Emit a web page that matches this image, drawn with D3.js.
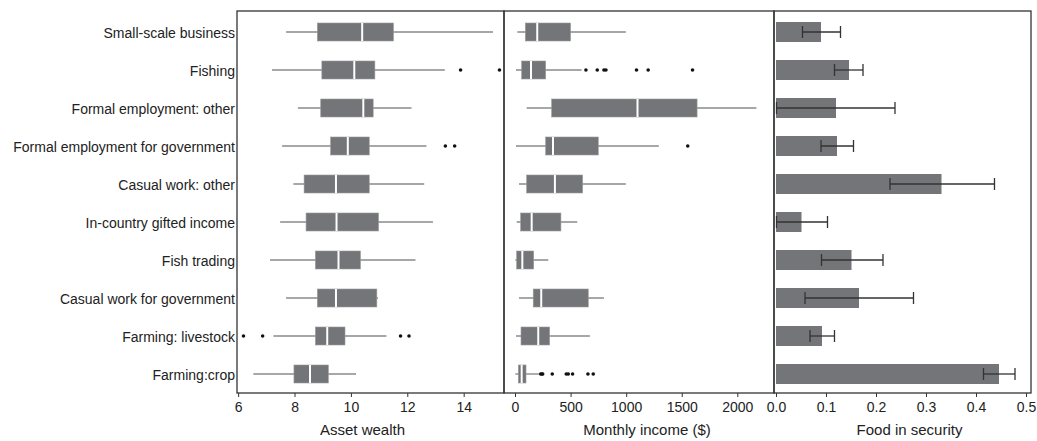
<!DOCTYPE html>
<html>
<head>
<meta charset="utf-8">
<script src="https://cdn.jsdelivr.net/npm/d3@7"></script>
<style>
  body { margin: 0; background: #fff; }
  text { font-family: "Liberation Sans", Arial, Helvetica, sans-serif; fill: #222; }
</style>
</head>
<body>
<div id="chart"></div>
<script>
/* Data */
const categories = [
  "Small-scale business",
  "Fishing",
  "Formal employment: other",
  "Formal employment for government",
  "Casual work: other",
  "In-country gifted income",
  "Fish trading",
  "Casual work for government",
  "Farming: livestock",
  "Farming:crop"
];

// [lower whisker, Q1, median, Q3, upper whisker]
const assetStats = [
  [7.70, 8.81, 10.40, 11.51, 15.04],
  [7.20, 8.97, 10.12, 10.85, 13.33],
  [8.12, 8.93, 10.44, 10.79, 12.15],
  [7.56, 9.28, 9.89, 10.65, 12.68],
  [7.96, 8.34, 9.47, 10.65, 12.60],
  [7.49, 8.41, 9.49, 10.98, 12.91],
  [7.13, 8.74, 9.56, 10.34, 12.29],
  [7.70, 8.81, 9.47, 10.92, 10.96],
  [7.25, 8.74, 9.16, 9.79, 11.26],
  [6.54, 7.98, 8.55, 9.20, 10.18]
];
const assetOutliers = [
  [], [13.89, 15.27], [], [13.35, 13.68], [], [], [], [], [6.19, 6.87, 11.76, 12.06], []
];

const incomeStats = [
  [21, 93, 200, 500, 997],
  [9, 60, 144, 276, 599],
  [105, 330, 1102, 1638, 2172],
  [9, 276, 342, 749, 1294],
  [36, 105, 359, 608, 997],
  [15, 51, 150, 413, 560],
  [3, 15, 66, 168, 299],
  [36, 164, 236, 659, 800],
  [9, 54, 209, 312, 674],
  [3, 30, 60, 99, 215]
];
const incomeOutliers = [
  [],
  [638, 740, 800, 818, 1093, 1198, 1597],
  [],
  [1554],
  [], [], [], [], [],
  [231, 243, 249, 335, 461, 479, 518, 656, 704]
];

const foodMean = [0.090, 0.146, 0.120, 0.122, 0.331, 0.051, 0.151, 0.166, 0.092, 0.446];
const foodLow  = [0.053, 0.117, 0.001, 0.090, 0.228, 0.001, 0.091, 0.058, 0.068, 0.415];
const foodHigh = [0.129, 0.174, 0.238, 0.155, 0.437, 0.103, 0.214, 0.275, 0.117, 0.478];

const assetTicks = [6, 8, 10, 12, 14];
const incomeTicks = [0, 500, 1000, 1500, 2000];
const foodTicks = [0, 0.1, 0.2, 0.3, 0.4, 0.5];

/* Dimensions */
const width = 1037, height = 441;
const plotTop = 11, plotBottom = 393;
const boxHeight = 18, barHeight = 20;
const grey = "#747578";

const svg = d3.select("#chart")
  .append("svg")
  .attr("width", width)
  .attr("height", height);

// shared row scale
const yScale = d3.scalePoint()
  .domain(categories)
  .range([plotTop + 2, plotBottom])
  .padding(0.5);

// category labels
svg.append("g")
  .selectAll("text")
  .data(categories)
  .enter()
  .append("text")
  .attr("x", 235)
  .attr("y", d => yScale(d) + 1)
  .attr("dy", "0.35em")
  .attr("text-anchor", "end")
  .style("font-size", "14px")
  .text(d => d);

function drawAxis(x, ticks, fmt, title, x0, x1, titleShift) {
  const axis = svg.append("g")
    .attr("transform", `translate(0,${plotBottom})`)
    .call(d3.axisBottom(x).tickValues(ticks).tickSize(4).tickPadding(5).tickFormat(fmt));
  axis.select(".domain").remove();
  axis.selectAll(".tick line").attr("stroke", "#333");
  axis.selectAll(".tick text")
    .style("font-size", "14px")
    .style("font-family", "\"Liberation Sans\", Arial, sans-serif")
    .attr("fill", "#222");

  // x-label (nudged like the original figure)
  svg.append("text")
    .attr("x", (x0 + x1) / 2 + titleShift)
    .attr("y", 435)
    .attr("text-anchor", "middle")
    .style("font-size", "15px")
    .text(title);

  // panel frame
  svg.append("rect")
    .attr("x", x0)
    .attr("y", plotTop)
    .attr("width", x1 - x0)
    .attr("height", plotBottom - plotTop)
    .attr("fill", "none")
    .attr("stroke", "#333")
    .attr("stroke-width", 1.3);
}

function drawBoxPanel(x0, x1, domain, stats, outliers, ticks, title, titleShift) {
  const x = d3.scaleLinear().domain(domain).range([x0, x1]);
  const g = svg.append("g");

  const rows = categories.map((c, i) => ({ cat: c, s: stats[i], out: outliers[i] }));

  // whiskers
  g.selectAll(".whisker")
    .data(rows)
    .enter()
    .append("line")
    .attr("x1", d => x(d.s[0]))
    .attr("x2", d => x(d.s[4]))
    .attr("y1", d => yScale(d.cat))
    .attr("y2", d => yScale(d.cat))
    .attr("stroke", "#8a8a8a")
    .attr("stroke-width", 1.4);

  // boxes
  g.selectAll(".box")
    .data(rows)
    .enter()
    .append("rect")
    .attr("x", d => x(d.s[1]))
    .attr("width", d => x(d.s[3]) - x(d.s[1]))
    .attr("y", d => yScale(d.cat) - boxHeight / 2)
    .attr("height", boxHeight)
    .attr("fill", grey)
    .attr("stroke", "#9a9a9c")
    .attr("stroke-width", 0.6);

  // medians
  g.selectAll(".median")
    .data(rows)
    .enter()
    .append("line")
    .attr("x1", d => x(d.s[2]))
    .attr("x2", d => x(d.s[2]))
    .attr("y1", d => yScale(d.cat) - boxHeight / 2)
    .attr("y2", d => yScale(d.cat) + boxHeight / 2)
    .attr("stroke", "#fff")
    .attr("stroke-width", 2);

  // outliers
  const pts = rows.flatMap(d => d.out.map(v => ({ cat: d.cat, v: v })));
  g.selectAll(".outlier")
    .data(pts)
    .enter()
    .append("circle")
    .attr("cx", d => x(d.v))
    .attr("cy", d => yScale(d.cat))
    .attr("r", 1.8)
    .attr("fill", "#111");

  drawAxis(x, ticks, d3.format("d"), title, x0, x1, titleShift);
}

/* Asset wealth */
drawBoxPanel(237, 504, [5.96, 15.43], assetStats, assetOutliers, assetTicks, "Asset wealth", -8);

/* Monthly income */
drawBoxPanel(504, 774, [-99, 2330], incomeStats, incomeOutliers, incomeTicks, "Monthly income ($)", 8);

/* Food insecurity bars */
const xFood = d3.scaleLinear().domain([-0.004, 0.51]).range([774, 1031]);
const foodRows = categories.map((c, i) => ({ cat: c, v: foodMean[i], lo: foodLow[i], hi: foodHigh[i] }));
const fg = svg.append("g");

fg.selectAll(".bar")
  .data(foodRows)
  .enter()
  .append("rect")
  .attr("x", xFood(0))
  .attr("width", d => xFood(d.v) - xFood(0))
  .attr("y", d => yScale(d.cat) - barHeight / 2)
  .attr("height", barHeight)
  .attr("fill", grey);

fg.selectAll(".err")
  .data(foodRows)
  .enter()
  .append("line")
  .attr("x1", d => xFood(d.lo))
  .attr("x2", d => xFood(d.hi))
  .attr("y1", d => yScale(d.cat))
  .attr("y2", d => yScale(d.cat))
  .attr("stroke", "#333")
  .attr("stroke-width", 1.3);

["lo", "hi"].forEach(k => {
  fg.selectAll(".cap-" + k)
    .data(foodRows)
    .enter()
    .append("line")
    .attr("x1", d => xFood(d[k]))
    .attr("x2", d => xFood(d[k]))
    .attr("y1", d => yScale(d.cat) - 6)
    .attr("y2", d => yScale(d.cat) + 6)
    .attr("stroke", "#333")
    .attr("stroke-width", 1.3);
});

drawAxis(xFood, foodTicks, d3.format(".1f"), "Food in security", 774, 1031, 7);
</script>
</body>
</html>
